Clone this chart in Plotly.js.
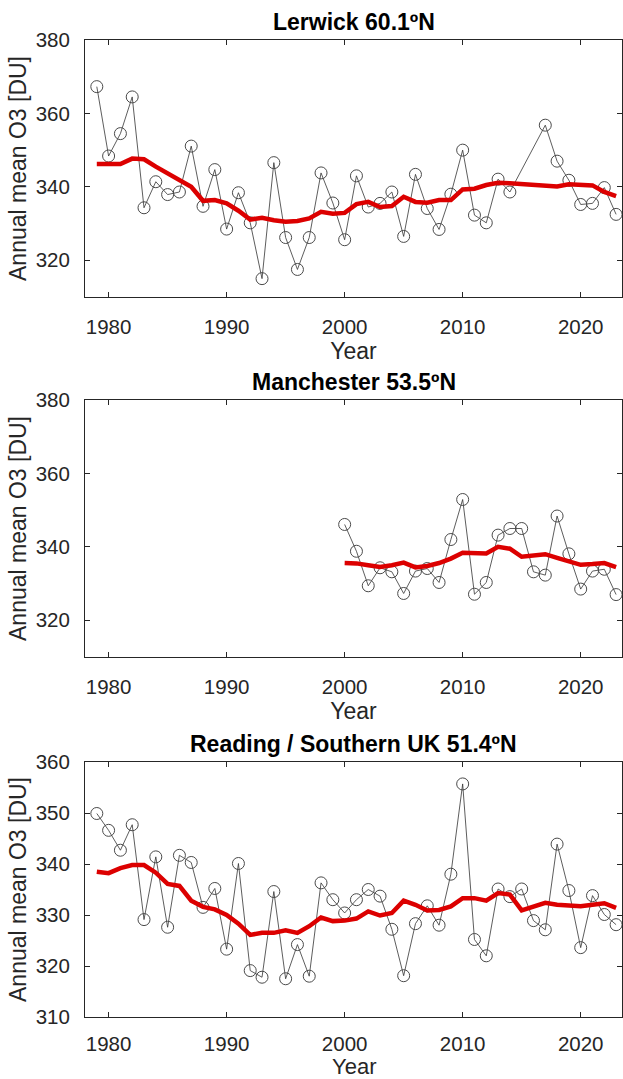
<!DOCTYPE html>
<html>
<head>
<meta charset="utf-8">
<script src="https://cdn.plot.ly/plotly-3.0.1.min.js"></script>
<style>
html, body { margin: 0; padding: 0; background: #ffffff; }
#chart { width: 623px; height: 1079px; }
</style>
</head>
<body>
<div id="chart"></div>
<script>
// ---- Data ----
const yearsFull = [1979, 1980, 1981, 1982, 1983, 1984, 1985, 1986, 1987, 1988,
                   1989, 1990, 1991, 1992, 1993, 1994, 1995, 1996, 1997, 1998,
                   1999, 2000, 2001, 2002, 2003, 2004, 2005, 2006, 2007, 2008,
                   2009, 2010, 2011, 2012, 2013, 2014, 2015, 2016, 2017, 2018,
                   2019, 2020, 2021, 2022, 2023];

const lerwickAnnual = [367.3, 348.4, 354.5, 364.5, 334.3, 341.4, 337.9, 338.6, 351.1, 334.7,
                       344.7, 328.5, 338.4, 330.2, 315.0, 346.6, 326.2, 317.5, 326.2, 343.8,
                       335.6, 325.6, 343.0, 334.5, 335.5, 338.6, 326.5, 343.4, 334.1, 328.4,
                       338.0, 350.0, 332.3, 330.2, 342.1, 338.6, null, null, 356.8, 347.0,
                       341.8, 335.2, 335.5, 339.8, 332.5];
const lerwickSmooth = [346.2, 346.2, 346.2, 347.7, 347.5, 345.5, 343.6, 342.0, 340.0, 336.2,
                       336.4, 335.5, 333.5, 331.1, 331.6, 330.9, 330.5, 330.7, 331.4, 333.2,
                       332.7, 332.9, 335.3, 335.9, 334.5, 334.8, 337.3, 335.9, 335.7, 336.4,
                       336.4, 339.3, 339.5, 340.5, 341.1, 341.0, 340.8, 340.4, 340.1, 340.1,
                       340.7, 340.5, 340.4, 338.6, 337.5];

const yearsManchester = [2000, 2001, 2002, 2003, 2004, 2005, 2006, 2007, 2008, 2009,
                         2010, 2011, 2012, 2013, 2014, 2015, 2016, 2017, 2018, 2019,
                         2020, 2021, 2022, 2023];
const manchesterAnnual = [346.1, 338.8, 329.4, 334.3, 333.2, 327.3, 333.4, 334.1, 330.3, 342.0,
                          352.9, 327.1, 330.3, 343.2, 345.0, 345.0, 333.2, 332.3, 348.4, 338.1,
                          328.5, 333.4, 333.9, 327.0];
const manchesterSmooth = [335.6, 335.5, 335.0, 334.5, 335.0, 335.7, 334.4, 334.8, 335.6, 336.8,
                          338.4, 338.4, 338.2, 340.0, 339.5, 337.3, 337.7, 338.0, 337.0, 335.9,
                          335.1, 335.3, 335.6, 334.5];

const readingAnnual = [349.9, 346.6, 342.7, 347.7, 329.1, 341.4, 327.6, 341.7, 340.3, 331.5,
                       335.2, 323.3, 340.1, 319.1, 317.8, 334.6, 317.5, 324.2, 318.0, 336.3,
                       333.0, 330.4, 333.0, 335.0, 333.7, 327.2, 318.1, 328.3, 331.8, 328.0,
                       338.0, 355.7, 325.2, 322.0, 335.1, 333.6, 335.1, 328.9, 327.1, 343.9,
                       334.8, 323.6, 333.8, 330.1, 328.1];
const readingSmooth = [338.5, 338.2, 339.2, 339.8, 339.8, 338.3, 336.1, 335.7, 332.8, 331.6,
                       331.1, 330.0, 328.3, 326.1, 326.5, 326.5, 327.0, 326.5, 327.8, 329.5,
                       328.8, 328.9, 329.3, 330.7, 329.9, 330.4, 332.8, 332.0, 330.9, 331.0,
                       331.7, 333.3, 333.3, 332.8, 334.3, 334.0, 330.9, 331.7, 332.4, 332.0,
                       331.9, 331.7, 332.0, 332.3, 331.4];

const panelTitles = ['Lerwick 60.1ºN', 'Manchester 53.5ºN', 'Reading / Southern UK 51.4ºN'];
const xTickVals = [1980, 1990, 2000, 2010, 2020];
const yTicksTop = [320, 340, 360, 380];
const yTicksBottom = [310, 320, 330, 340, 350, 360];
const xTitle = 'Year';
const yTitle = 'Annual mean O3 [DU]';

// ---- Styling ----
const FONT = 'Liberation Sans, Arial, Helvetica, sans-serif';
const AXC = '#262626';
const DOTC = '#4a4a4a';
const REDC = '#dc0000';

function obsTrace(x, y, n) {
  return {
    x: x, y: y, xaxis: 'x' + (n === 1 ? '' : n), yaxis: 'y' + (n === 1 ? '' : n),
    type: 'scatter', mode: 'lines+markers', connectgaps: true,
    line: { color: '#333333', width: 0.8 },
    marker: { symbol: 'circle-open', size: 12, color: DOTC, line: { width: 1 } },
    hoverinfo: 'x+y', showlegend: false
  };
}
function smoothTrace(x, y, n) {
  return {
    x: x, y: y, xaxis: 'x' + (n === 1 ? '' : n), yaxis: 'y' + (n === 1 ? '' : n),
    type: 'scatter', mode: 'lines',
    line: { color: REDC, width: 4.5 },
    hoverinfo: 'x+y', showlegend: false
  };
}

function xAxis(anchor, withTitle, labelGap) {
  const ax = {
    anchor: anchor, domain: [0, 1], range: [1978, 2023.5],
    tickmode: 'array', tickvals: xTickVals,
    ticks: 'inside', ticklen: 5, tickwidth: 1, tickcolor: AXC,
    showline: true, linecolor: AXC, linewidth: 1, mirror: 'ticks',
    showgrid: false, zeroline: false,
    tickfont: { family: FONT, size: 20.5, color: AXC },
    ticklabelstandoff: labelGap,
    automargin: false
  };
  if (withTitle) {
    ax.title = { text: xTitle, font: { family: FONT, size: 23, color: AXC }, standoff: 3 };
  }
  return ax;
}
function yAxis(anchor, domain, range, tickvals) {
  return {
    anchor: anchor, domain: domain, range: range,
    tickmode: 'array', tickvals: tickvals,
    ticks: 'inside', ticklen: 5, tickwidth: 1, tickcolor: AXC,
    showline: true, linecolor: AXC, linewidth: 1, mirror: 'ticks',
    showgrid: false, zeroline: false,
    tickfont: { family: FONT, size: 20.5, color: AXC },
    ticklabelstandoff: 10,
    title: { text: yTitle, font: { family: FONT, size: 23, color: AXC }, standoff: 2 },
    automargin: false
  };
}

const PH = 1079 - 40 - 62;
const d1 = [(1017 - 297) / PH, 1];
const d2 = [(1017 - 657) / PH, (1017 - 400) / PH];
const d3 = [0, (1017 - 762) / PH];

const data = [
  obsTrace(yearsFull, lerwickAnnual, 1),
  smoothTrace(yearsFull, lerwickSmooth, 1),
  obsTrace(yearsManchester, manchesterAnnual, 2),
  smoothTrace(yearsManchester, manchesterSmooth, 2),
  obsTrace(yearsFull, readingAnnual, 3),
  smoothTrace(yearsFull, readingSmooth, 3)
];

function titleAnn(text, yTop) {
  return {
    text: '<b>' + text + '</b>', xref: 'paper', yref: 'paper',
    x: 0.5, y: yTop, xanchor: 'center', yanchor: 'bottom', yshift: 3,
    showarrow: false, font: { family: FONT, size: 23, color: '#000000' }
  };
}

const layout = {
  width: 623, height: 1079,
  margin: { l: 85, r: 1, t: 40, b: 62, pad: 0 },
  paper_bgcolor: '#ffffff', plot_bgcolor: '#ffffff',
  font: { family: FONT, color: AXC },
  showlegend: false,
  xaxis: xAxis('y', true, 11),
  yaxis: yAxis('x', d1, [310, 380], yTicksTop),
  xaxis2: xAxis('y2', true, 11),
  yaxis2: yAxis('x2', d2, [310, 380], yTicksTop),
  xaxis3: xAxis('y3', false, 8),
  yaxis3: yAxis('x3', d3, [310, 360], yTicksBottom),
  annotations: [
    titleAnn(panelTitles[0], d1[1]),
    titleAnn(panelTitles[1], d2[1]),
    titleAnn(panelTitles[2], d3[1]),
    {
      text: xTitle, xref: 'paper', yref: 'paper',
      x: 0.5, y: -49 / PH, xanchor: 'center', yanchor: 'middle', borderpad: 0,
      showarrow: false, font: { family: FONT, size: 22, color: AXC }
    }
  ]
};

Plotly.newPlot('chart', data, layout, { displayModeBar: false, staticPlot: true });
</script>
</body>
</html>
